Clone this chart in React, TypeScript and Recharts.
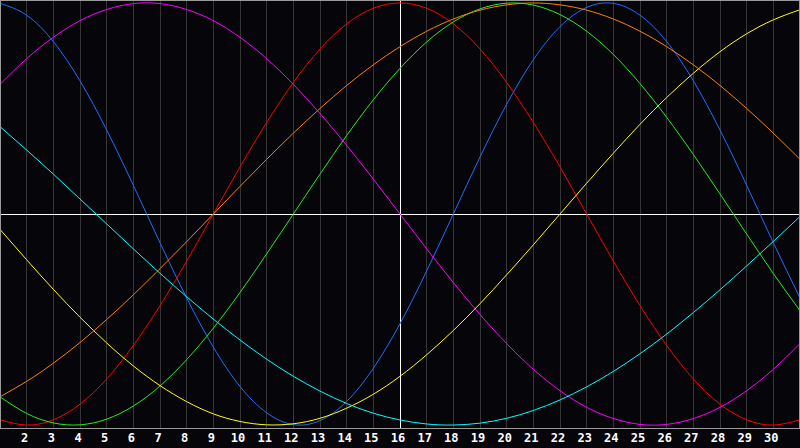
import { LineChart, Line, XAxis, YAxis, CartesianGrid, ReferenceLine } from "recharts";

// days of the month shown on the chart
const days = [1, 2, 3, 4, 5, 6, 7, 8, 9, 10, 11, 12, 13, 14, 15, 16, 17, 18, 19, 20, 21, 22, 23, 24, 25, 26, 27, 28, 29, 30, 31];
const tickDays = days.slice(1, 30);
const today = 16;

// cycle values in percent, one per day
const physical = [99.8, 94.2, 81.7, 63.1, 39.8, 13.6, -13.6, -39.8, -63.1, -81.7, -94.2, -99.8, -97.9, -88.8, -73.1, -52.0, -27.0, 0, 27.0, 52.0, 73.1, 88.8, 97.9, 99.8, 94.2, 81.7, 63.1, 39.8, 13.6, -13.6, -39.8];
const emotional = [-97.5, -100, -97.5, -90.1, -78.2, -62.3, -43.4, -22.3, 0, 22.3, 43.4, 62.3, 78.2, 90.1, 97.5, 100, 97.5, 90.1, 78.2, 62.3, 43.4, 22.3, 0, -22.3, -43.4, -62.3, -78.2, -90.1, -97.5, -100, -97.5];
const intellectual = [-86.6, -94.5, -99.0, -99.9, -97.2, -91.0, -81.5, -69.0, -54.1, -37.2, -18.9, 0, 18.9, 37.2, 54.1, 69.0, 81.5, 91.0, 97.2, 99.9, 99.0, 94.5, 86.6, 75.6, 61.8, 45.8, 28.2, 9.5, -9.5, -28.2, -45.8];
const intuitive = [61.4, 73.6, 83.7, 91.6, 96.9, 99.7, 99.7, 96.9, 91.6, 83.7, 73.6, 61.4, 47.6, 32.5, 16.5, 0, -16.5, -32.5, -47.6, -61.4, -73.6, -83.7, -91.6, -96.9, -99.7, -99.7, -96.9, -91.6, -83.7, -73.6, -61.4];
const aesthetic = [-7.3, -21.7, -35.7, -48.9, -61.1, -72.0, -81.3, -88.9, -94.7, -98.3, -99.9, -99.4, -96.8, -92.0, -85.4, -76.9, -66.7, -55.2, -42.5, -28.8, -14.6, 0, 14.6, 28.8, 42.5, 55.2, 66.7, 76.9, 85.4, 92.0, 96.8];
const awareness = [-86.6, -79.3, -70.7, -60.9, -50.0, -38.3, -25.9, -13.1, 0, 13.1, 25.9, 38.3, 50.0, 60.9, 70.7, 79.3, 86.6, 92.4, 96.6, 99.1, 100, 99.1, 96.6, 92.4, 86.6, 79.3, 70.7, 60.9, 50.0, 38.3, 25.9];
const spiritual = [41.4, 30.3, 18.9, 7.1, -4.7, -16.5, -28.1, -39.2, -49.8, -59.7, -68.8, -76.9, -83.9, -89.8, -94.4, -97.6, -99.5, -100, -99.1, -96.8, -93.1, -88.1, -81.9, -74.6, -66.2, -56.9, -46.7, -35.9, -24.6, -13.0, -1.2];

const series = [
  { key: "physical", color: "#1E6EFF" },
  { key: "emotional", color: "#FF0000" },
  { key: "intellectual", color: "#22EE22" },
  { key: "intuitive", color: "#FF00FF" },
  { key: "aesthetic", color: "#FFFF00" },
  { key: "awareness", color: "#FF8000" },
  { key: "spiritual", color: "#00FFFF" },
];

const data = days.map((day, i) => ({
  day,
  physical: physical[i],
  emotional: emotional[i],
  intellectual: intellectual[i],
  intuitive: intuitive[i],
  aesthetic: aesthetic[i],
  awareness: awareness[i],
  spiritual: spiritual[i],
}));

export default function App() {
  return (
    <div style={{ position: "absolute", left: 0, top: 0, width: 800, height: 448, background: "#060509" }}>
      <LineChart width={800} height={448} data={data} margin={{ top: 0, right: 0, left: 0, bottom: 0 }}>
        <CartesianGrid horizontal={false} stroke="#363636" shapeRendering="crispEdges" />
        <XAxis
          dataKey="day"
          type="number"
          domain={[1, 31]}
          ticks={tickDays}
          interval={0}
          height={20}
          tickSize={0}
          tickMargin={5}
          axisLine={{ stroke: "#9a9a9a", shapeRendering: "crispEdges" }}
          tickLine={false}
          tick={{ fill: "#ffffff", fontSize: 12, fontWeight: "bold", fontFamily: "DejaVu Sans Mono", dx: -2 }}
        />
        <YAxis hide domain={[-101.4, 101.4]} />
        <ReferenceLine y={0} stroke="#ffffff" shapeRendering="crispEdges" />
        <ReferenceLine x={today} stroke="#ffffff" shapeRendering="crispEdges" />
        {series.map((s) => (
          <Line
            key={s.key}
            dataKey={s.key}
            type="natural"
            stroke={s.color}
            strokeWidth={1}
            dot={false}
            activeDot={false}
            isAnimationActive={false}
          />
        ))}
      </LineChart>
      <div
        style={{
          position: "absolute",
          left: 0,
          top: 0,
          width: 798,
          height: 428,
          borderTop: "1px solid #9a9a9a",
          borderLeft: "1px solid #9a9a9a",
          borderRight: "1px solid #9a9a9a",
          pointerEvents: "none",
        }}
      />
    </div>
  );
}
